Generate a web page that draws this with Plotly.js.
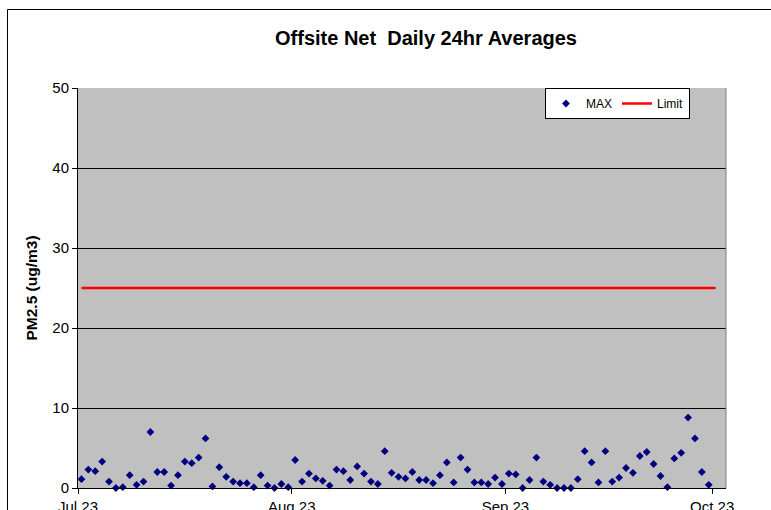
<!DOCTYPE html>
<html>
<head>
<meta charset="utf-8">
<script src="https://cdn.plot.ly/plotly-3.0.1.min.js"></script>
<style>
html,body{margin:0;padding:0;background:#fff;}
#chart{width:771px;height:510px;}
</style>
</head>
<body>
<div id="chart"></div>
<script>
// Daily series: first day and daily maxima (ug/m3), Jul 1 – Sep 30, 2023
var startDate = '2023-07-01';
var maxValues = [
  1.1, 2.3, 2.1, 3.3, 0.8, 0.0, 0.1, 1.6, 0.4, 0.8,
  7.0, 2.0, 2.0, 0.3, 1.6, 3.3, 3.1, 3.8, 6.2, 0.2,
  2.6, 1.4, 0.8, 0.6, 0.6, 0.1, 1.6, 0.3, 0.0, 0.5,
  0.1, 3.5, 0.8, 1.8, 1.2, 0.9, 0.3, 2.3, 2.1, 1.0,
  2.7, 1.8, 0.8, 0.5, 4.6, 1.9, 1.4, 1.2, 2.0, 1.0,
  1.0, 0.6, 1.6, 3.2, 0.7, 3.8, 2.3, 0.7, 0.7, 0.5,
  1.3, 0.5, 1.8, 1.7, 0.0, 1.0, 3.8, 0.8, 0.4, 0.0,
  0.0, 0.0, 1.1, 4.6, 3.2, 0.7, 4.6, 0.8, 1.3, 2.5,
  1.9, 4.0, 4.5, 3.0, 1.5, 0.1, 3.7, 4.4, 8.8, 6.2,
  2.0, 0.4
];
var limitDates = ['2023-07-01 12:00', '2023-10-01 12:00'];
var limitValues = [25, 25];
var tickDates = ['2023-07-01', '2023-08-01', '2023-09-01', '2023-10-01'];
var tickLabels = ['Jul 23', 'Aug 23', 'Sep 23', 'Oct 23'];
var yTicks = [0, 10, 20, 30, 40, 50];

function pad(n){return (n<10?'0':'')+n;}
var maxDates = [];
(function(){
  var p = startDate.split('-');
  var d0 = Date.UTC(+p[0], +p[1]-1, +p[2]);
  for (var i = 0; i < maxValues.length; i++) {
    var d = new Date(d0 + i*86400000);
    maxDates.push(d.getUTCFullYear()+'-'+pad(d.getUTCMonth()+1)+'-'+pad(d.getUTCDate())+' 12:00');
  }
})();

var L = 78, R = 726, T = 88, B = 488, W = 771, H = 510;
var pw = R - L, ph = B - T;

var traces = [
  {
    x: maxDates, y: maxValues, name: 'MAX', type: 'scatter', mode: 'markers',
    marker: {symbol: 'diamond', size: 6, color: '#000080'},
    cliponaxis: false
  },
  {
    x: limitDates, y: limitValues, name: 'Limit', type: 'scatter', mode: 'lines',
    line: {color: '#FF0000', width: 2.5}
  }
];

var layout = {
  width: W, height: H,
  margin: {l: L, r: W - R, t: T, b: H - B, pad: 0, autoexpand: false},
  paper_bgcolor: '#FFFFFF',
  plot_bgcolor: '#C0C0C0',
  font: {family: 'Liberation Sans, Arial, sans-serif', color: '#000', size: 15},
  title: {
    text: '<b>Offsite Net  Daily 24hr Averages</b>',
    font: {size: 20, family: 'Liberation Sans, Arial, sans-serif', color: '#000'},
    x: (426 - L) / pw, xref: 'paper', xanchor: 'center',
    y: 1 - 38 / H, yref: 'container', yanchor: 'middle'
  },
  showlegend: true,
  legend: {
    orientation: 'h', x: (545 - L) / pw, xanchor: 'left', y: 1, yanchor: 'top',
    bgcolor: '#FFFFFF', bordercolor: '#000000', borderwidth: 1,
    font: {size: 12, family: 'Liberation Sans, Arial, sans-serif'},
    tracegroupgap: 0
  },
  xaxis: {
    type: 'date',
    range: ['2023-07-01', '2023-10-03'],
    tickvals: tickDates, ticktext: tickLabels,
    ticks: 'outside', ticklen: 5, tickcolor: '#000', tickwidth: 1,
    showgrid: false, zeroline: false,
    showline: true, linecolor: '#000', linewidth: 1,
    tickfont: {size: 15}
  },
  yaxis: {
    range: [0, 50], tickvals: yTicks,
    ticks: 'outside', ticklen: 5, tickcolor: '#000', tickwidth: 1,
    showgrid: true, gridcolor: '#000000', gridwidth: 1,
    zeroline: false,
    showline: true, linecolor: '#000', linewidth: 1,
    tickfont: {size: 15},
    title: {text: '<b>PM2.5 (ug/m3)</b>', font: {size: 15.5}, standoff: 10}
  },
  shapes: [
    {type: 'line', xref: 'paper', yref: 'paper', x0: 1, x1: 1, y0: 0, y1: 1,
     line: {color: '#808080', width: 1}},
    {type: 'rect', xref: 'paper', yref: 'paper',
     x0: (7.5 - L) / pw, x1: (800 - L) / pw, y0: -0.2, y1: (B - 9.5) / ph,
     line: {color: '#000000', width: 1}, layer: 'above'}
  ]
};

Plotly.newPlot('chart', traces, layout, {displayModeBar: false, staticPlot: true});
</script>
</body>
</html>
